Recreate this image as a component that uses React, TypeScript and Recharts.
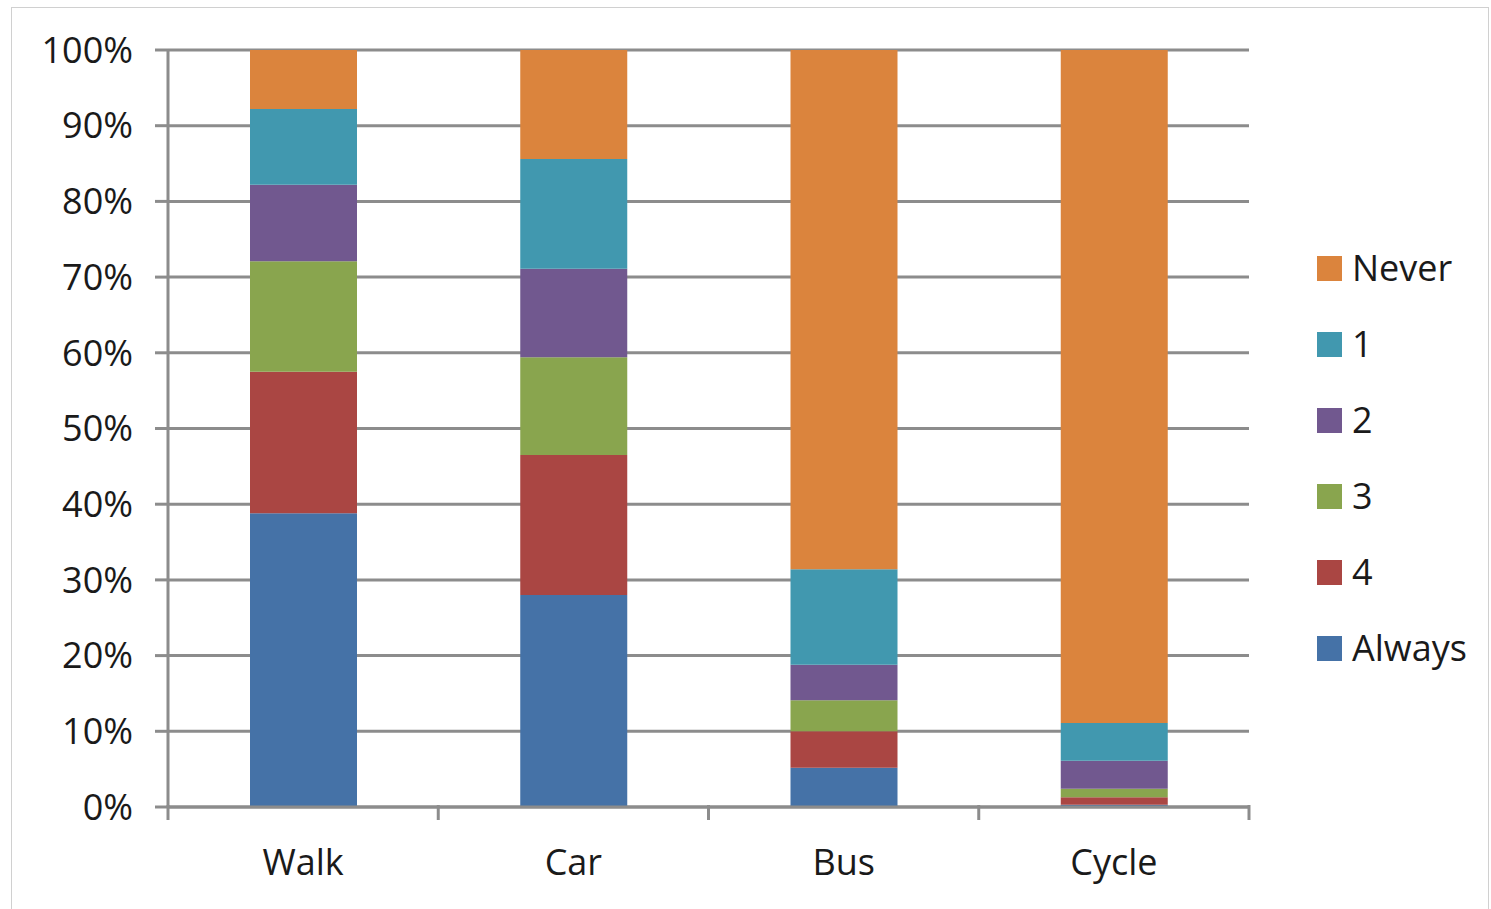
import React from 'react';
import { BarChart, Bar, XAxis, YAxis, CartesianGrid, Legend } from 'recharts';

const categories = ['Walk', 'Car', 'Bus', 'Cycle'];
const always = [38.8, 28.0, 5.2, 0.3];
const four = [18.7, 18.5, 4.8, 1.0];
const three = [14.6, 12.9, 4.1, 1.1];
const two = [10.1, 11.7, 4.7, 3.7];
const one = [10.0, 14.5, 12.6, 5.0];
const never = [7.8, 14.4, 68.6, 88.9];
const yTicks = [0, 0.1, 0.2, 0.3, 0.4, 0.5, 0.6, 0.7, 0.8, 0.9, 1];

const series = [
  { key: 'Always', values: always, color: '#4572a7' },
  { key: '4', values: four, color: '#aa4643' },
  { key: '3', values: three, color: '#89a54e' },
  { key: '2', values: two, color: '#71588f' },
  { key: '1', values: one, color: '#4198af' },
  { key: 'Never', values: never, color: '#db843d' },
];

const data = categories.map((c, i) => {
  const row: Record<string, any> = { name: c };
  series.forEach((s) => {
    row[s.key] = s.values[i];
  });
  return row;
});

const FONT = '"Open Sans", Calibri, sans-serif';
const FS = 36;
const GRID = '#8c8c8c';
const W = 1491;
const H = 909;
const LEGEND_W = 174;
const M = { top: 50, right: 242 - LEGEND_W, bottom: 42, left: 0 };
const YW = 168;
const XH = 60;
const plotW = 1249 - 168;
const band = plotW / categories.length;

const XTick = (props: any) => {
  const { x, y, payload, index } = props;
  return (
    <g>
      <line x1={x - band / 2} x2={x - band / 2} y1={y - 10} y2={y + 5} stroke={GRID} strokeWidth={3} />
      {index === categories.length - 1 && (
        <line x1={x + band / 2} x2={x + band / 2} y1={y - 10} y2={y + 5} stroke={GRID} strokeWidth={3} />
      )}
      <text x={x} y={y + 60} textAnchor="middle" fontFamily={FONT} fontSize={FS} fill="#1a1a1a">
        {payload.value}
      </text>
    </g>
  );
};

const LegendContent = () => {
  const items = [...series].reverse();
  return (
    <div style={{ fontFamily: FONT }}>
      {items.map((it) => (
        <div key={it.key} style={{ display: 'flex', alignItems: 'center', height: 76 }}>
          <div style={{ width: 25, height: 25, background: it.color, marginRight: 10 }} />
          <span style={{ fontSize: FS, color: '#1a1a1a', lineHeight: '36px' }}>{it.key}</span>
        </div>
      ))}
    </div>
  );
};

export default function App() {
  return (
    <div style={{ position: 'fixed', left: 0, top: 0, width: W, height: H, overflow: 'hidden', background: '#fff' }}>
      <div
        style={{
          position: 'absolute',
          left: 11,
          top: 7,
          width: 1476,
          height: 1000,
          borderLeft: '1px solid #d0d0d0',
          borderTop: '1px solid #d0d0d0',
          borderRight: '1px solid #d0d0d0',
        }}
      />
      <div style={{ position: 'absolute', left: 0, top: 0 }}>
        <BarChart width={W} height={H} data={data} margin={M} stackOffset="expand" barSize={107}>
          <CartesianGrid vertical={false} stroke={GRID} strokeWidth={3} />
          <XAxis
            dataKey="name"
            height={XH}
            axisLine={{ stroke: GRID, strokeWidth: 3 }}
            tickLine={false}
            tick={<XTick />}
            interval={0}
          />
          <YAxis
            width={YW}
            domain={[0, 1]}
            ticks={yTicks}
            tickFormatter={(v: number) => `${Math.round(v * 100)}%`}
            axisLine={{ stroke: GRID, strokeWidth: 3 }}
            tickLine={{ stroke: GRID, strokeWidth: 3 }}
            tickSize={13}
            tickMargin={22}
            tick={{ fontFamily: FONT, fontSize: FS, fill: '#1a1a1a' }}
          />
          <Legend
            layout="vertical"
            verticalAlign="top"
            align="right"
            content={<LegendContent />}
            wrapperStyle={{ position: 'absolute', left: 1317, top: 230, width: LEGEND_W }}
          />
          {series.map((s) => (
            <Bar key={s.key} dataKey={s.key} name={s.key} stackId="a" fill={s.color} isAnimationActive={false} />
          ))}
        </BarChart>
      </div>
    </div>
  );
}
